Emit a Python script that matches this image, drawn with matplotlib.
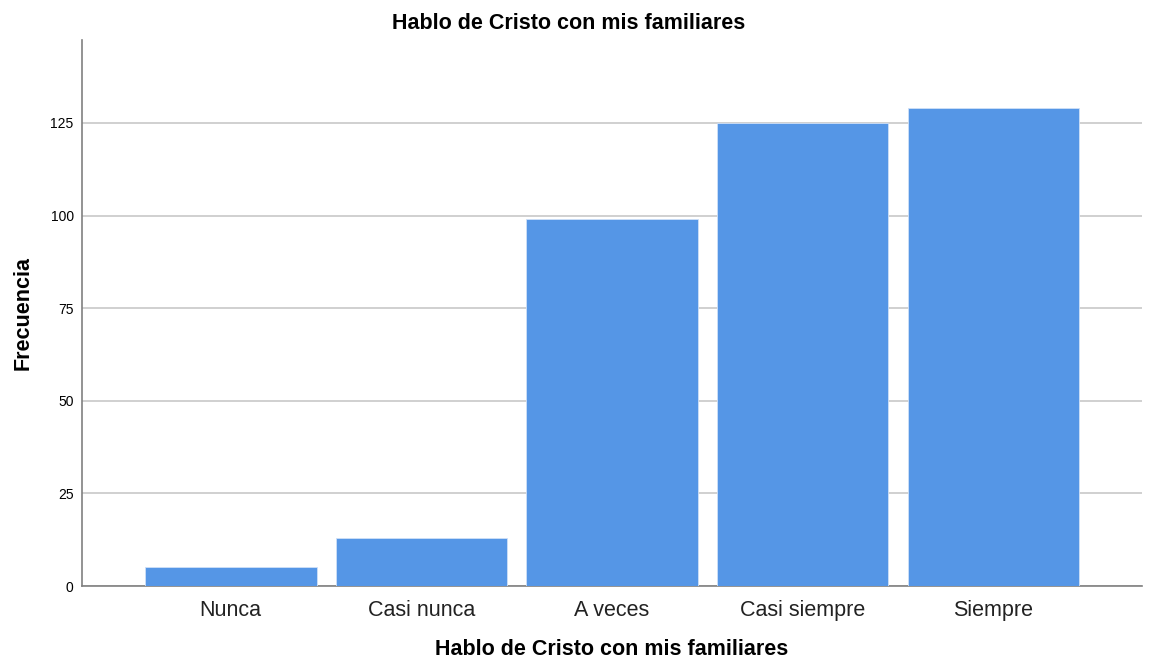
import matplotlib.pyplot as plt

plt.rcParams['font.family'] = ['Liberation Sans', 'DejaVu Sans']

categories = ["Nunca", "Casi nunca", "A veces", "Casi siempre", "Siempre"]
counts = [5, 13, 99, 125, 129]
yticks = [0, 25, 50, 75, 100, 125]

fig = plt.figure(figsize=(11.49, 6.66), dpi=100)
ax = fig.add_axes([0.0714, 0.1201, 0.9225, 0.8198])

x = range(len(categories))
ax.bar(x, counts, width=0.9, color="#5596e6", edgecolor="#cfe0f7",
       linewidth=0.6, zorder=3)

ax.set_xlim(-0.78, len(categories) - 1 + 0.78)
ax.set_ylim(0, 147.4)
ax.set_yticks(yticks)
ax.set_yticklabels([str(t) for t in yticks], fontsize=10)
ax.set_xticks(list(x))
ax.set_xticklabels(categories, fontsize=15.5, color="#222222")
ax.tick_params(axis="y", length=0, pad=6)
ax.tick_params(axis="x", length=0, pad=10)
ax.grid(axis="y", color="#c8c8c8", linewidth=1.2, zorder=0)

for side in ["top", "right"]:
    ax.spines[side].set_visible(False)
for side in ["left", "bottom"]:
    ax.spines[side].set_color("#808080")
    ax.spines[side].set_linewidth(1.2)

fig.suptitle("Hablo de Cristo con mis familiares", fontsize=15.5,
             fontweight="bold", x=0.495, y=0.98)
ax.set_xlabel("Hablo de Cristo con mis familiares", fontsize=15.5,
              fontweight="bold", labelpad=13)
ax.set_ylabel("Frecuencia", fontsize=15.5, fontweight="bold", labelpad=12)

fig.savefig("out.png", dpi=100)
